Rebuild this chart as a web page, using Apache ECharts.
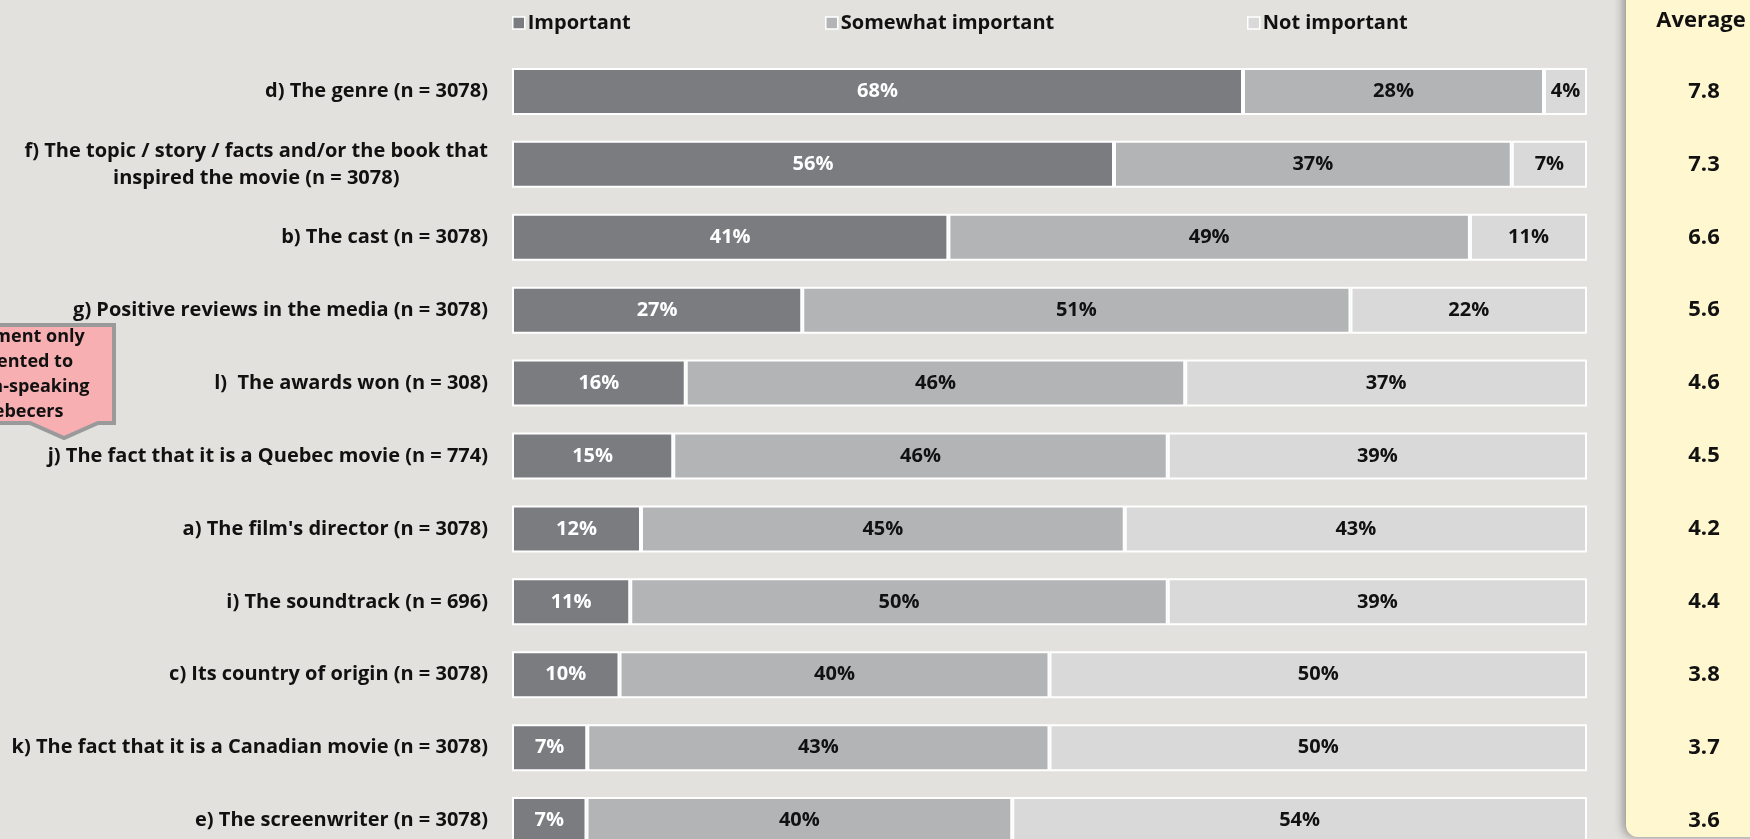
<!DOCTYPE html>
<html>
<head>
<meta charset="utf-8">
<style>
  html, body { margin: 0; padding: 0; background: #E2E1DD; overflow: hidden; }
  #chart { width: 1750px; height: 857px; }
</style>
<script src="https://cdn.jsdelivr.net/npm/echarts@6/dist/echarts.min.js"></script>
</head>
<body>
<div id="chart"></div>
<script>
// Survey statements, top to bottom
const categories = [
  'd) The genre (n = 3078)',
  'f) The topic / story / facts and/or the book that\ninspired the movie (n = 3078)',
  'b) The cast (n = 3078)',
  'g) Positive reviews in the media (n = 3078)',
  'l)  The awards won (n = 308)',
  'j) The fact that it is a Quebec movie (n = 774)',
  "a) The film's director (n = 3078)",
  'i) The soundtrack (n = 696)',
  'c) Its country of origin (n = 3078)',
  'k) The fact that it is a Canadian movie (n = 3078)',
  'e) The screenwriter (n = 3078)'
];
const important      = [68, 56, 41, 27, 16, 15, 12, 11, 10, 7, 7];
const somewhat       = [28, 37, 49, 51, 46, 46, 45, 50, 40, 43, 40];
const notImportant   = [4, 7, 11, 22, 37, 39, 43, 39, 50, 50, 54];
const averages       = ['7.8', '7.3', '6.6', '5.6', '4.6', '4.5', '4.2', '4.4', '3.8', '3.7', '3.6'];
const seriesNames    = ['Important', 'Somewhat important', 'Not important'];
const noteLines      = ['Statement only', 'presented to', 'French-speaking', 'Quebecers'];

const FONT = '"Open Sans"';
const colors = ['#7A7C80', '#B3B4B6', '#D9D9D9'];
const labelColors = ['#FFFFFF', '#111111', '#111111'];

// each row is drawn as a 100% stacked bar
const rowTotals = categories.map((_, i) => important[i] + somewhat[i] + notImportant[i]);
const groups = [important, somewhat, notImportant];

const chart = echarts.init(document.getElementById('chart'), null, { renderer: 'canvas' });

const series = groups.map((vals, s) => ({
  name: seriesNames[s],
  type: 'bar',
  stack: 'total',
  barWidth: 47,
  data: vals.map((v, i) => ({ value: v / rowTotals[i] * 100, raw: v })),
  itemStyle: { color: colors[s], borderColor: '#FFFFFF', borderWidth: 2 },
  label: {
    show: true,
    position: 'inside',
    formatter: p => p.data.raw + '%',
    color: labelColors[s],
    fontFamily: FONT,
    fontWeight: 'bold',
    fontSize: 20
  },
  emphasis: { disabled: true }
}));

const legendLefts = [507, 820, 1242];

chart.setOption({
  backgroundColor: '#E2E1DD',
  animation: false,
  grid: { left: 512, right: 163, top: 55, bottom: 0 },
  legend: seriesNames.map((n, i) => ({
    data: [n],
    left: legendLefts[i],
    top: 8,
    itemWidth: 12,
    itemHeight: 12,
    itemGap: 6,
    icon: 'rect',
    itemStyle: { borderColor: '#FFFFFF', borderWidth: 1.5 },
    textStyle: { fontFamily: FONT, fontWeight: 'bold', fontSize: 20, color: '#111111', padding: [0, 0, 0, -2] },
    selectedMode: false
  })),
  xAxis: { type: 'value', min: 0, max: 100, show: false },
  yAxis: {
    type: 'category',
    data: categories,
    inverse: true,
    axisLine: { show: false },
    axisTick: { show: false },
    axisLabel: {
      margin: 24,
      align: 'right',
      formatter: v => v.split('\n').map(l => '{c|' + l + '}').join('\n'),
      rich: {
        c: { align: 'center', fontFamily: FONT, fontWeight: 'bold', fontSize: 20, color: '#111111', lineHeight: 27 }
      }
    }
  },
  series: series
});

// Average column on the right and the callout note on the left
const graphics = [
  {
    type: 'rect',
    shape: { x: 1626, y: -20, width: 140, height: 857, r: [0, 0, 0, 12] },
    style: { fill: '#FFF7CF', shadowBlur: 10, shadowColor: 'rgba(0,0,0,0.35)', shadowOffsetX: -3 },
    z: 1
  },
  {
    type: 'text',
    x: 1701, y: 21,
    style: { text: 'Average', fontFamily: FONT, fontWeight: 'bold', fontSize: 22, fill: '#111111', align: 'center', verticalAlign: 'middle' },
    z: 2
  }
];
categories.forEach((c, i) => {
  const y = chart.convertToPixel({ yAxisIndex: 0 }, i);
  graphics.push({
    type: 'text',
    x: 1704, y: y,
    style: { text: averages[i], fontFamily: FONT, fontWeight: 'bold', fontSize: 22, fill: '#111111', align: 'center', verticalAlign: 'middle' },
    z: 2
  });
});
graphics.push({
  type: 'polygon',
  shape: { points: [[-80, 325], [114, 325], [114, 423], [98, 423], [64, 438], [30, 423], [-80, 423]] },
  style: { fill: '#F7AFB1', stroke: '#9A9A9A', lineWidth: 4, lineJoin: 'miter' },
  z: 3
});
graphics.push({
  type: 'text',
  x: 15.5, y: 374,
  style: {
    text: noteLines.join('\n'),
    fontFamily: FONT, fontWeight: 'bold', fontSize: 18, lineHeight: 25,
    fill: '#111111', align: 'center', verticalAlign: 'middle'
  },
  z: 4
});
chart.setOption({ graphic: graphics });
</script>
</body>
</html>
